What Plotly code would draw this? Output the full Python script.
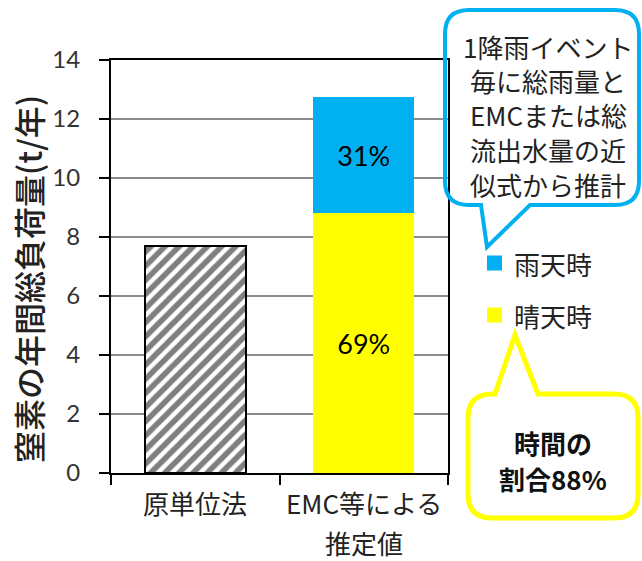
import plotly.graph_objects as go

# --- data -------------------------------------------------------------
categories = ["原単位法", "EMC等による<br>推定値"]
unit_method = [7.7, None]          # 原単位法 (t/年)
dry_weather = [None, 8.8]          # 晴天時 (t/年)
wet_weather = [None, 3.95]         # 雨天時 (t/年)
series_names = ["晴天時", "雨天時"]
y_ticks = [0, 2, 4, 6, 8, 10, 12, 14]
y_title = "窒素の年間総負荷量(t/年)"
rain_note = ["1降雨イベント", "毎に総雨量と", "EMCまたは総", "流出水量の近", "似式から推計"]
time_note = ["時間の", "割合88%"]

BLUE = "#00B0F0"
YELLOW = "#FFFF00"

# shares of the estimated total, used as the in-bar labels
total = dry_weather[1] + wet_weather[1]
dry_text = [None, f"{round(100 * dry_weather[1] / total)}%"]
wet_text = [None, f"{round(100 * wet_weather[1] / total)}%"]

W, H = 642, 561
L, R, T, B = 111, 194, 60, 88
PW, PH = W - L - R, H - T - B


def px(x):
    return (x - L) / PW


def py(y):
    return (H - B - y) / PH


JP = "Noto Sans CJK JP"
NUM = "Lato"

fig = go.Figure()
fig.add_bar(
    x=categories, y=unit_method, name="原単位法", showlegend=False,
    width=0.6,
    marker=dict(color="white", line=dict(color="black", width=2),
                pattern=dict(shape="/", fgcolor="black", bgcolor="white",
                             size=10, solidity=0.55)),
)
fig.add_bar(
    x=categories, y=dry_weather, name=series_names[0], showlegend=False,
    width=0.6, marker=dict(color=YELLOW, line=dict(width=0)),
    text=dry_text, textposition="inside", insidetextanchor="middle",
    textangle=0, textfont=dict(family=NUM, size=27, color="black"),
)
fig.add_bar(
    x=categories, y=wet_weather, name=series_names[1], showlegend=False,
    width=0.6, marker=dict(color=BLUE, line=dict(width=0)),
    text=wet_text, textposition="inside", insidetextanchor="middle",
    textangle=0, textfont=dict(family=NUM, size=27, color="black"),
)

fig.update_layout(
    width=W, height=H, barmode="stack",
    margin=dict(l=L, r=R, t=T, b=B, pad=0),
    paper_bgcolor="white", plot_bgcolor="white",
    showlegend=False,
    font=dict(family=JP, color="#222"),
)
fig.update_xaxes(
    type="category", categoryarray=categories, range=[-0.5, 1.5],
    showticklabels=False, ticks="outside", tickson="boundaries",
    ticklen=10, tickwidth=2, tickcolor="black",
    showline=True, linecolor="black", linewidth=2, mirror=True,
    showgrid=False,
)
fig.update_yaxes(
    range=[0, 14], tickvals=y_ticks, ticks="outside", ticklen=10,
    tickwidth=2, tickcolor="black", ticklabelstandoff=14,
    tickfont=dict(family=NUM, size=24, color="#333"),
    showline=True, linecolor="black", linewidth=2, mirror=True,
    showgrid=True, gridcolor="#8c8c8c", gridwidth=1.5, zeroline=False,
)

# y-axis title
fig.add_annotation(
    text=y_title, textangle=-90, xref="paper", yref="paper",
    x=px(28), y=py(279), xanchor="center", yanchor="middle",
    showarrow=False, font=dict(family=JP, size=32, color="#222", weight=500),
)

# category labels, one annotation per line
for cat in categories:
    for i, line in enumerate(cat.split("<br>")):
        fig.add_annotation(
            text=line, x=cat, xref="x", yref="paper", y=py(502 + 40 * i),
            xanchor="center", yanchor="middle", showarrow=False,
            font=dict(family=JP, size=26, color="#222"),
        )

# legend swatches and labels
for name, color, yc in [(series_names[1], BLUE, 263), (series_names[0], YELLOW, 315)]:
    fig.add_shape(type="rect", xref="paper", yref="paper",
                  x0=px(487), x1=px(502), y0=py(yc - 7.5), y1=py(yc + 7.5),
                  fillcolor=color, line=dict(width=0))
    fig.add_annotation(text=name, xref="paper", yref="paper",
                       x=px(512), y=py(yc), xanchor="left", yanchor="middle",
                       showarrow=False, font=dict(family=JP, size=26, color="#222"))


def callout_path(x0, y0, x1, y1, r, pointer, side):
    """Rounded rectangle with a triangular pointer on its top or bottom edge."""
    (ba, (tx, ty), bb) = pointer
    pts = [f"M {px(x0 + r)},{py(y0)}"]
    if side == "top":
        pts += [f"L {px(ba)},{py(y0)}", f"L {px(tx)},{py(ty)}", f"L {px(bb)},{py(y0)}"]
    pts += [f"L {px(x1 - r)},{py(y0)}",
            f"Q {px(x1)},{py(y0)} {px(x1)},{py(y0 + r)}",
            f"L {px(x1)},{py(y1 - r)}",
            f"Q {px(x1)},{py(y1)} {px(x1 - r)},{py(y1)}"]
    if side == "bottom":
        pts += [f"L {px(bb)},{py(y1)}", f"L {px(tx)},{py(ty)}", f"L {px(ba)},{py(y1)}"]
    pts += [f"L {px(x0 + r)},{py(y1)}",
            f"Q {px(x0)},{py(y1)} {px(x0)},{py(y1 - r)}",
            f"L {px(x0)},{py(y0 + r)}",
            f"Q {px(x0)},{py(y0)} {px(x0 + r)},{py(y0)} Z"]
    return " ".join(pts)


# blue callout describing the wet-weather estimate
fig.add_shape(type="path", xref="paper", yref="paper", layer="above",
              path=callout_path(445, 10, 639, 205, 24,
                                (481, (487, 247), 530), "bottom"),
              line=dict(color=BLUE, width=4), fillcolor="rgba(0,0,0,0)")
for i, line in enumerate(rain_note):
    fig.add_annotation(text=line, xref="paper", yref="paper",
                       x=px(548), y=py(46 + 34.5 * i), xanchor="center",
                       yanchor="middle", showarrow=False,
                       font=dict(family=JP, size=26, color="#222"))

# yellow callout for the dry-weather time share
fig.add_shape(type="path", xref="paper", yref="paper", layer="above",
              path=callout_path(468, 394, 638, 518, 24,
                                (495, (515, 335), 538), "top"),
              line=dict(color=YELLOW, width=5), fillcolor="rgba(0,0,0,0)")
for i, line in enumerate(time_note):
    fig.add_annotation(text=line, xref="paper", yref="paper",
                       x=px(553), y=py(442 + 37 * i), xanchor="center",
                       yanchor="middle", showarrow=False,
                       font=dict(family=JP, size=26, color="#111", weight="bold"))

fig.write_html("out.html")
